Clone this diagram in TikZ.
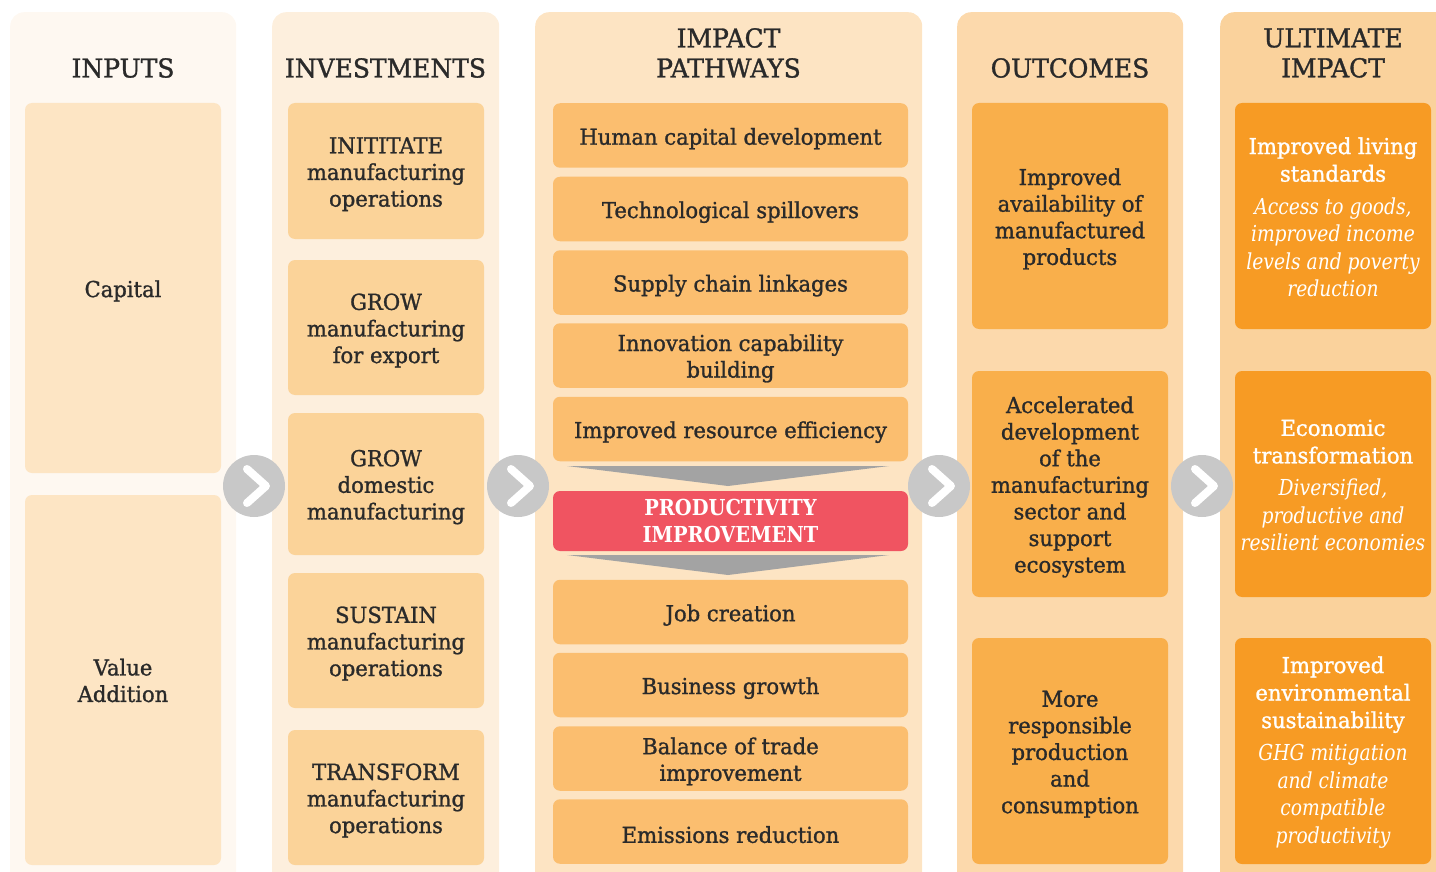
\documentclass[tikz,border=0pt]{standalone}
\usepackage{fontspec}
\setmainfont{DejaVu Serif}[FakeStretch=0.96, FakeBold=1.2]
\newfontfamily\lightfont{DejaVu Serif}[FakeStretch=0.85]
\newfontfamily\boldnarrow{DejaVu Serif Bold}[FakeStretch=0.88]
\usetikzlibrary{calc}
\definecolor{txt}{HTML}{2A2A2A}
\definecolor{cAbg}{HTML}{FEF8F1}
\definecolor{cAbox}{HTML}{FDE5C4}
\definecolor{cBbg}{HTML}{FDEFDD}
\definecolor{cBbox}{HTML}{FBD399}
\definecolor{cCbg}{HTML}{FDE4C3}
\definecolor{cCbox}{HTML}{FBBE6F}
\definecolor{cDbg}{HTML}{FCD9AC}
\definecolor{cDbox}{HTML}{F9AF4B}
\definecolor{cEbg}{HTML}{FAD29C}
\definecolor{cEbox}{HTML}{F79B24}
\definecolor{prodred}{HTML}{F05461}
\definecolor{circgray}{HTML}{C8C8C8}
\definecolor{trigray}{HTML}{A3A3A3}
\tikzset{
  colbg/.style={rounded corners=14pt, inner sep=0pt, anchor=north west, minimum height=900},
  hdr/.style={align=center, text=txt, font=\fontsize{26}{30}\selectfont},
  card/.style={rounded corners=7pt, inner sep=0pt, align=center, text=txt, font=\fontsize{22}{26.6}\selectfont},
  lowered/.style={execute at begin node={\rule{0pt}{23pt}}},
  pathcard/.style={card, lowered, fill=cCbox, minimum width=355, minimum height=64.5},
  invcard/.style={card, fill=cBbox, minimum width=196},
  outcard/.style={card, fill=cDbox, minimum width=196, minimum height=226},
  ultcard/.style={card, fill=cEbox, minimum width=196, minimum height=226, text=white, font=\fontsize{22}{27.5}\selectfont},
  nextcirc/.style={circle, fill=circgray, minimum size=62, inner sep=0pt},
  chev/.style={white, line width=8, line cap=round, line join=round}
}
\newcommand{\itl}[1]{{\lightfont\itshape #1}}
\newcommand{\dn}{\rule{0pt}{22.5pt}}
\newcommand{\dnu}{\rule{0pt}{19pt}}
\begin{document}
\begin{tikzpicture}[x=1pt,y=-1pt]
\useasboundingbox (0,0) rectangle (1436,872);
\clip (0,0) rectangle (1436,872);
% column backgrounds
\node[colbg, fill=cAbg, minimum width=226] (colA) at (10,12) {};
\node[colbg, fill=cBbg, minimum width=227] (colB) at (272,12) {};
\node[colbg, fill=cCbg, minimum width=387] (colC) at (535,12) {};
\node[colbg, fill=cDbg, minimum width=226] (colD) at (957,12) {};
\node[colbg, fill=cEbg, minimum width=240] (colE) at (1220,12) {};
% headers
\node[hdr] (hA) at (123,68) {INPUTS};
\node[hdr] (hB) at (385.5,68) {INVESTMENTS};
\node[hdr] (hC) at (728.5,53) {IMPACT\\PATHWAYS};
\node[hdr] (hD) at (1070,68) {OUTCOMES};
\node[hdr] (hE) at (1333,53) {ULTIMATE\\IMPACT};
% inputs
\node[card, fill=cAbox, minimum width=196, minimum height=370] (inA) at (123,288) {};
\node[text=txt, font=\fontsize{22}{26.5}\selectfont] (inAt) at (123,291) {Capital};
\node[card, fill=cAbox, minimum width=196, minimum height=370] (inB) at (123,680) {};
\node[align=center, text=txt, font=\fontsize{22}{26.5}\selectfont] (inBt) at (123,680.5) {Value\\Addition};
% investments
\node[invcard, minimum height=136] (iv1) at (386,171) {\dn INITITATE\\manufacturing\\operations};
\node[invcard, minimum height=135] (iv2) at (386,327.5) {\dn GROW\\manufacturing\\for export};
\node[invcard, minimum height=142] (iv3) at (386,484) {\dn GROW\\domestic\\manufacturing};
\node[invcard, minimum height=135] (iv4) at (386,640.5) {\dn SUSTAIN\\manufacturing\\operations};
\node[invcard, minimum height=135] (iv5) at (386,797.5) {\dn TRANSFORM\\manufacturing\\operations};
% pathways
\node[pathcard] (p1) at (730.5,135.5) {Human capital development};
\node[pathcard] (p2) at (730.5,209) {Technological spillovers};
\node[pathcard] (p3) at (730.5,282.5) {Supply chain linkages};
\node[card, fill=cCbox, minimum width=355, minimum height=64.5] (p4) at (730.5,355.5) {\dn Innovation capability\\building};
\node[pathcard] (p5) at (730.5,429) {Improved resource efficiency};
\node[card, fill=prodred, minimum width=355, minimum height=60, text=white, font=\fontsize{22}{26.6}\boldnarrow] (prod) at (730.5,521) {PRODUCTIVITY\\IMPROVEMENT};
\node[pathcard] (p6) at (730.5,612) {Job creation};
\node[pathcard] (p7) at (730.5,685) {Business growth};
\node[card, fill=cCbox, minimum width=355, minimum height=64.5] (p8) at (730.5,758.5) {\dn Balance of trade\\improvement};
\node[pathcard] (p9) at (730.5,831.5) {Emissions reduction};
% funnel triangles
\fill[trigray] (567,466) -- (889,466) -- (728,486) -- cycle;
\fill[trigray] (567,555) -- (889,555) -- (728,575) -- cycle;
% outcomes
\node[outcard] (o1) at (1070,216) {\dn Improved\\availability of\\manufactured\\products};
\node[outcard] (o2) at (1070,484) {\dn Accelerated\\development\\of the\\manufacturing\\sector and\\support\\ecosystem};
\node[outcard] (o3) at (1070,751) {\dn More\\responsible\\production\\and\\consumption};
% ultimate impact
\node[ultcard] (u1) at (1333,216) {\dnu Improved living\\standards\\[5pt]\itl{Access to goods,}\\\itl{improved income}\\\itl{levels and poverty}\\\itl{reduction}};
\node[ultcard] (u2) at (1333,484) {\dnu Economic\\transformation\\[5pt]\itl{Diversified,}\\\itl{productive and}\\\itl{resilient economies}};
\node[ultcard] (u3) at (1333,751) {\dnu Improved\\environmental\\sustainability\\[5pt]\itl{GHG mitigation}\\\itl{and climate}\\\itl{compatible}\\\itl{productivity}};
% arrows between columns
\foreach \n/\xx in {a1/254,a2/518,a3/939,a4/1202}{
  \node[nextcirc] (\n) at (\xx,486) {};
  \draw[chev] ($(\n)+(-7,-17)$) -- ($(\n)+(12,0)$) -- ($(\n)+(-7,17)$);
}
\end{tikzpicture}
\end{document}
